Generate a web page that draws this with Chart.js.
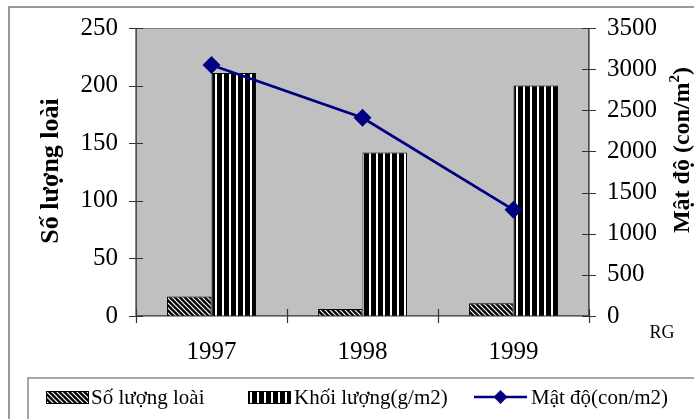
<!DOCTYPE html>
<html>
<head>
<meta charset="utf-8">
<script src="https://cdn.jsdelivr.net/npm/chart.js@4.4.1/dist/chart.umd.min.js"></script>
<style>
  html, body { margin: 0; padding: 0; background: #ffffff; }
  #wrap { width: 694px; height: 419px; }
</style>
</head>
<body>
<div id="wrap"><canvas id="c" width="694" height="419"></canvas></div>
<script>
// Survey years and measured values
const years = ['1997', '1998', '1999'];
const soLuongLoai = [17, 6, 11];        // species count (left axis)
const khoiLuong = [211, 142, 200];      // biomass g/m2 (left axis)
const matDo = [3050, 2410, 1290];       // density con/m2 (right axis)

const leftAxis = { min: 0, max: 250, step: 50 };
const rightAxis = { min: 0, max: 3500, step: 500 };

const seriesNames = ['Số lượng loài', 'Khối lượng(g/m2)', 'Mật độ(con/m2)'];
const FONT = '"Liberation Serif", "Times New Roman", serif';

// Fill patterns for the bars
function makePattern(w, h, draw) {
  const cv = document.createElement('canvas');
  cv.width = w; cv.height = h;
  const g = cv.getContext('2d');
  g.fillStyle = '#000';
  g.fillRect(0, 0, w, h);
  draw(g, w, h);
  return document.getElementById('c').getContext('2d').createPattern(cv, 'repeat');
}
const hatch = makePattern(5, 5, (g, w, h) => {
  g.strokeStyle = '#fff';
  g.lineWidth = 1.2;
  g.beginPath();
  g.moveTo(-1, -1); g.lineTo(w + 1, h + 1);
  g.moveTo(-1, h - 1); g.lineTo(1, h + 1);
  g.moveTo(w - 1, -1); g.lineTo(w + 1, 1);
  g.stroke();
});
const stripes = makePattern(7, 4, (g, w, h) => {
  g.fillStyle = '#fff';
  g.fillRect(5, 0, 2, h);
});

// Gray plot area, outer frame, axis lines with crossing tick marks, titles and legend
const framePlugin = {
  id: 'framePlugin',
  beforeDraw(chart) {
    const { ctx, chartArea: a } = chart;
    ctx.save();
    ctx.fillStyle = '#ffffff';
    ctx.fillRect(0, 0, chart.width, chart.height);
    ctx.strokeStyle = '#7a7a7a';
    ctx.lineWidth = 1.5;
    ctx.beginPath();
    ctx.moveTo(9, chart.height + 2); ctx.lineTo(9, 7); ctx.lineTo(chart.width + 2, 7);
    ctx.stroke();
    ctx.fillStyle = '#c0c0c0';
    ctx.fillRect(a.left, a.top, a.right - a.left, a.bottom - a.top);
    ctx.strokeStyle = '#808080';
    ctx.lineWidth = 1;
    ctx.strokeRect(a.left + 0.5, a.top + 0.5, a.right - a.left - 1, a.bottom - a.top - 1);
    ctx.restore();
  },
  afterDraw(chart) {
    const { ctx, chartArea: a, scales } = chart;
    ctx.save();
    ctx.strokeStyle = '#333';
    ctx.lineWidth = 1.2;
    ctx.beginPath();
    ctx.moveTo(a.left, a.top); ctx.lineTo(a.left, a.bottom + 0.5);
    ctx.moveTo(a.right, a.top); ctx.lineTo(a.right, a.bottom + 0.5);
    ctx.moveTo(a.left, a.bottom); ctx.lineTo(a.right, a.bottom);
    scales.y.ticks.forEach(t => {
      const y = Math.round(scales.y.getPixelForValue(t.value)) + 0.5;
      ctx.moveTo(a.left - 7, y); ctx.lineTo(a.left + 7, y);
    });
    scales.y2.ticks.forEach(t => {
      const y = Math.round(scales.y2.getPixelForValue(t.value)) + 0.5;
      ctx.moveTo(a.right - 7, y); ctx.lineTo(a.right + 7, y);
    });
    for (let i = 0; i <= years.length; i++) {
      const x = Math.round(scales.x.getPixelForValue(i - 0.5)) + 0.5;
      ctx.moveTo(x, a.bottom - 7); ctx.lineTo(x, a.bottom + 7);
    }
    ctx.stroke();

    // axis titles
    ctx.fillStyle = '#000';
    ctx.font = 'bold 26px ' + FONT;
    ctx.textAlign = 'center';
    ctx.textBaseline = 'middle';
    ctx.save();
    ctx.translate(51, 171);
    ctx.rotate(-Math.PI / 2);
    ctx.fillText('Số lượng loài', 0, 0);
    ctx.restore();

    ctx.save();
    ctx.translate(681, 150);
    ctx.rotate(-Math.PI / 2);
    const main = 'Mật độ (con/m';
    ctx.font = 'bold 24px ' + FONT;
    const w1 = ctx.measureText(main).width;
    ctx.font = 'bold 15px ' + FONT;
    const w2 = ctx.measureText('2').width;
    ctx.font = 'bold 24px ' + FONT;
    const w3 = ctx.measureText(')').width;
    const x0 = -(w1 + w2 + w3) / 2;
    ctx.textAlign = 'left';
    ctx.textBaseline = 'alphabetic';
    ctx.fillText(main, x0, 8);
    ctx.font = 'bold 15px ' + FONT;
    ctx.fillText('2', x0 + w1, -2);
    ctx.font = 'bold 24px ' + FONT;
    ctx.fillText(')', x0 + w1 + w2, 8);
    ctx.restore();

    ctx.font = '18px ' + FONT;
    ctx.textAlign = 'center';
    ctx.textBaseline = 'middle';
    ctx.fillText('RG', 662, 333);

    // legend box
    ctx.strokeStyle = '#8a8a8a';
    ctx.lineWidth = 1.5;
    ctx.beginPath();
    ctx.moveTo(28, chart.height + 2); ctx.lineTo(28, 378); ctx.lineTo(chart.width + 2, 378);
    ctx.stroke();

    const ds = chart.data.datasets;
    const baseY = 404;
    ctx.font = '21px ' + FONT;
    ctx.textAlign = 'left';
    ctx.textBaseline = 'alphabetic';
    const swatches = [
      { d: ds[1], x: 46, w: 43, tx: 91 },
      { d: ds[2], x: 248, w: 43, tx: 294 }
    ];
    swatches.forEach(s => {
      ctx.fillStyle = s.d.backgroundColor;
      ctx.fillRect(s.x, 391, s.w, 13);
      ctx.strokeStyle = '#000';
      ctx.lineWidth = 1;
      ctx.strokeRect(s.x + 0.5, 391.5, s.w - 1, 12);
      ctx.fillStyle = '#000';
      ctx.fillText(s.d.label, s.tx, baseY);
    });
    const ld = ds[0];
    ctx.strokeStyle = ld.borderColor;
    ctx.lineWidth = 2.5;
    ctx.beginPath();
    ctx.moveTo(474, 397); ctx.lineTo(527, 397);
    ctx.stroke();
    ctx.fillStyle = ld.backgroundColor;
    ctx.beginPath();
    ctx.moveTo(500.5, 390); ctx.lineTo(507.5, 397); ctx.lineTo(500.5, 404); ctx.lineTo(493.5, 397);
    ctx.closePath();
    ctx.fill();
    ctx.fillStyle = '#000';
    ctx.fillText(ld.label, 531, baseY);
    ctx.restore();
  }
};

const plainTick = v => String(v);

new Chart(document.getElementById('c'), {
  type: 'bar',
  data: {
    labels: years,
    datasets: [
      {
        type: 'line',
        label: seriesNames[2],
        data: matDo,
        yAxisID: 'y2',
        order: 0,
        borderColor: '#000080',
        backgroundColor: '#000080',
        borderWidth: 2.8,
        pointStyle: 'rectRot',
        pointRadius: 7,
        pointHoverRadius: 7,
        tension: 0
      },
      {
        label: seriesNames[0],
        data: soLuongLoai,
        yAxisID: 'y',
        order: 1,
        backgroundColor: hatch,
        borderColor: '#000',
        borderWidth: 1
      },
      {
        label: seriesNames[1],
        data: khoiLuong,
        yAxisID: 'y',
        order: 1,
        backgroundColor: stripes,
        borderColor: '#000',
        borderWidth: 1
      }
    ]
  },
  options: {
    responsive: false,
    animation: false,
    devicePixelRatio: 1,
    layout: { padding: { top: 28, left: 0, right: 0, bottom: 0 } },
    datasets: { bar: { categoryPercentage: 0.59, barPercentage: 1 } },
    plugins: { legend: { display: false }, tooltip: { enabled: false } },
    scales: {
      x: {
        offset: true,
        grid: { display: false, drawTicks: false },
        border: { display: false },
        ticks: { color: '#000', font: { family: FONT, size: 25 }, padding: 21, maxRotation: 0 },
        afterFit(s) { s.height = 103; s.paddingLeft = 0; s.paddingRight = 0; }
      },
      y: {
        position: 'left',
        min: leftAxis.min, max: leftAxis.max,
        grid: { display: false, drawTicks: false },
        border: { display: false },
        ticks: { stepSize: leftAxis.step, color: '#000', font: { family: FONT, size: 25 }, padding: 18, callback: plainTick },
        afterFit(s) { s.width = 136; s.paddingTop = 0; s.paddingBottom = 0; }
      },
      y2: {
        position: 'right',
        min: rightAxis.min, max: rightAxis.max,
        grid: { display: false, drawTicks: false },
        border: { display: false },
        ticks: { stepSize: rightAxis.step, color: '#000', font: { family: FONT, size: 25 }, padding: 18, callback: plainTick },
        afterFit(s) { s.width = 105; s.paddingTop = 0; s.paddingBottom = 0; }
      }
    }
  },
  plugins: [framePlugin]
});
</script>
</body>
</html>
